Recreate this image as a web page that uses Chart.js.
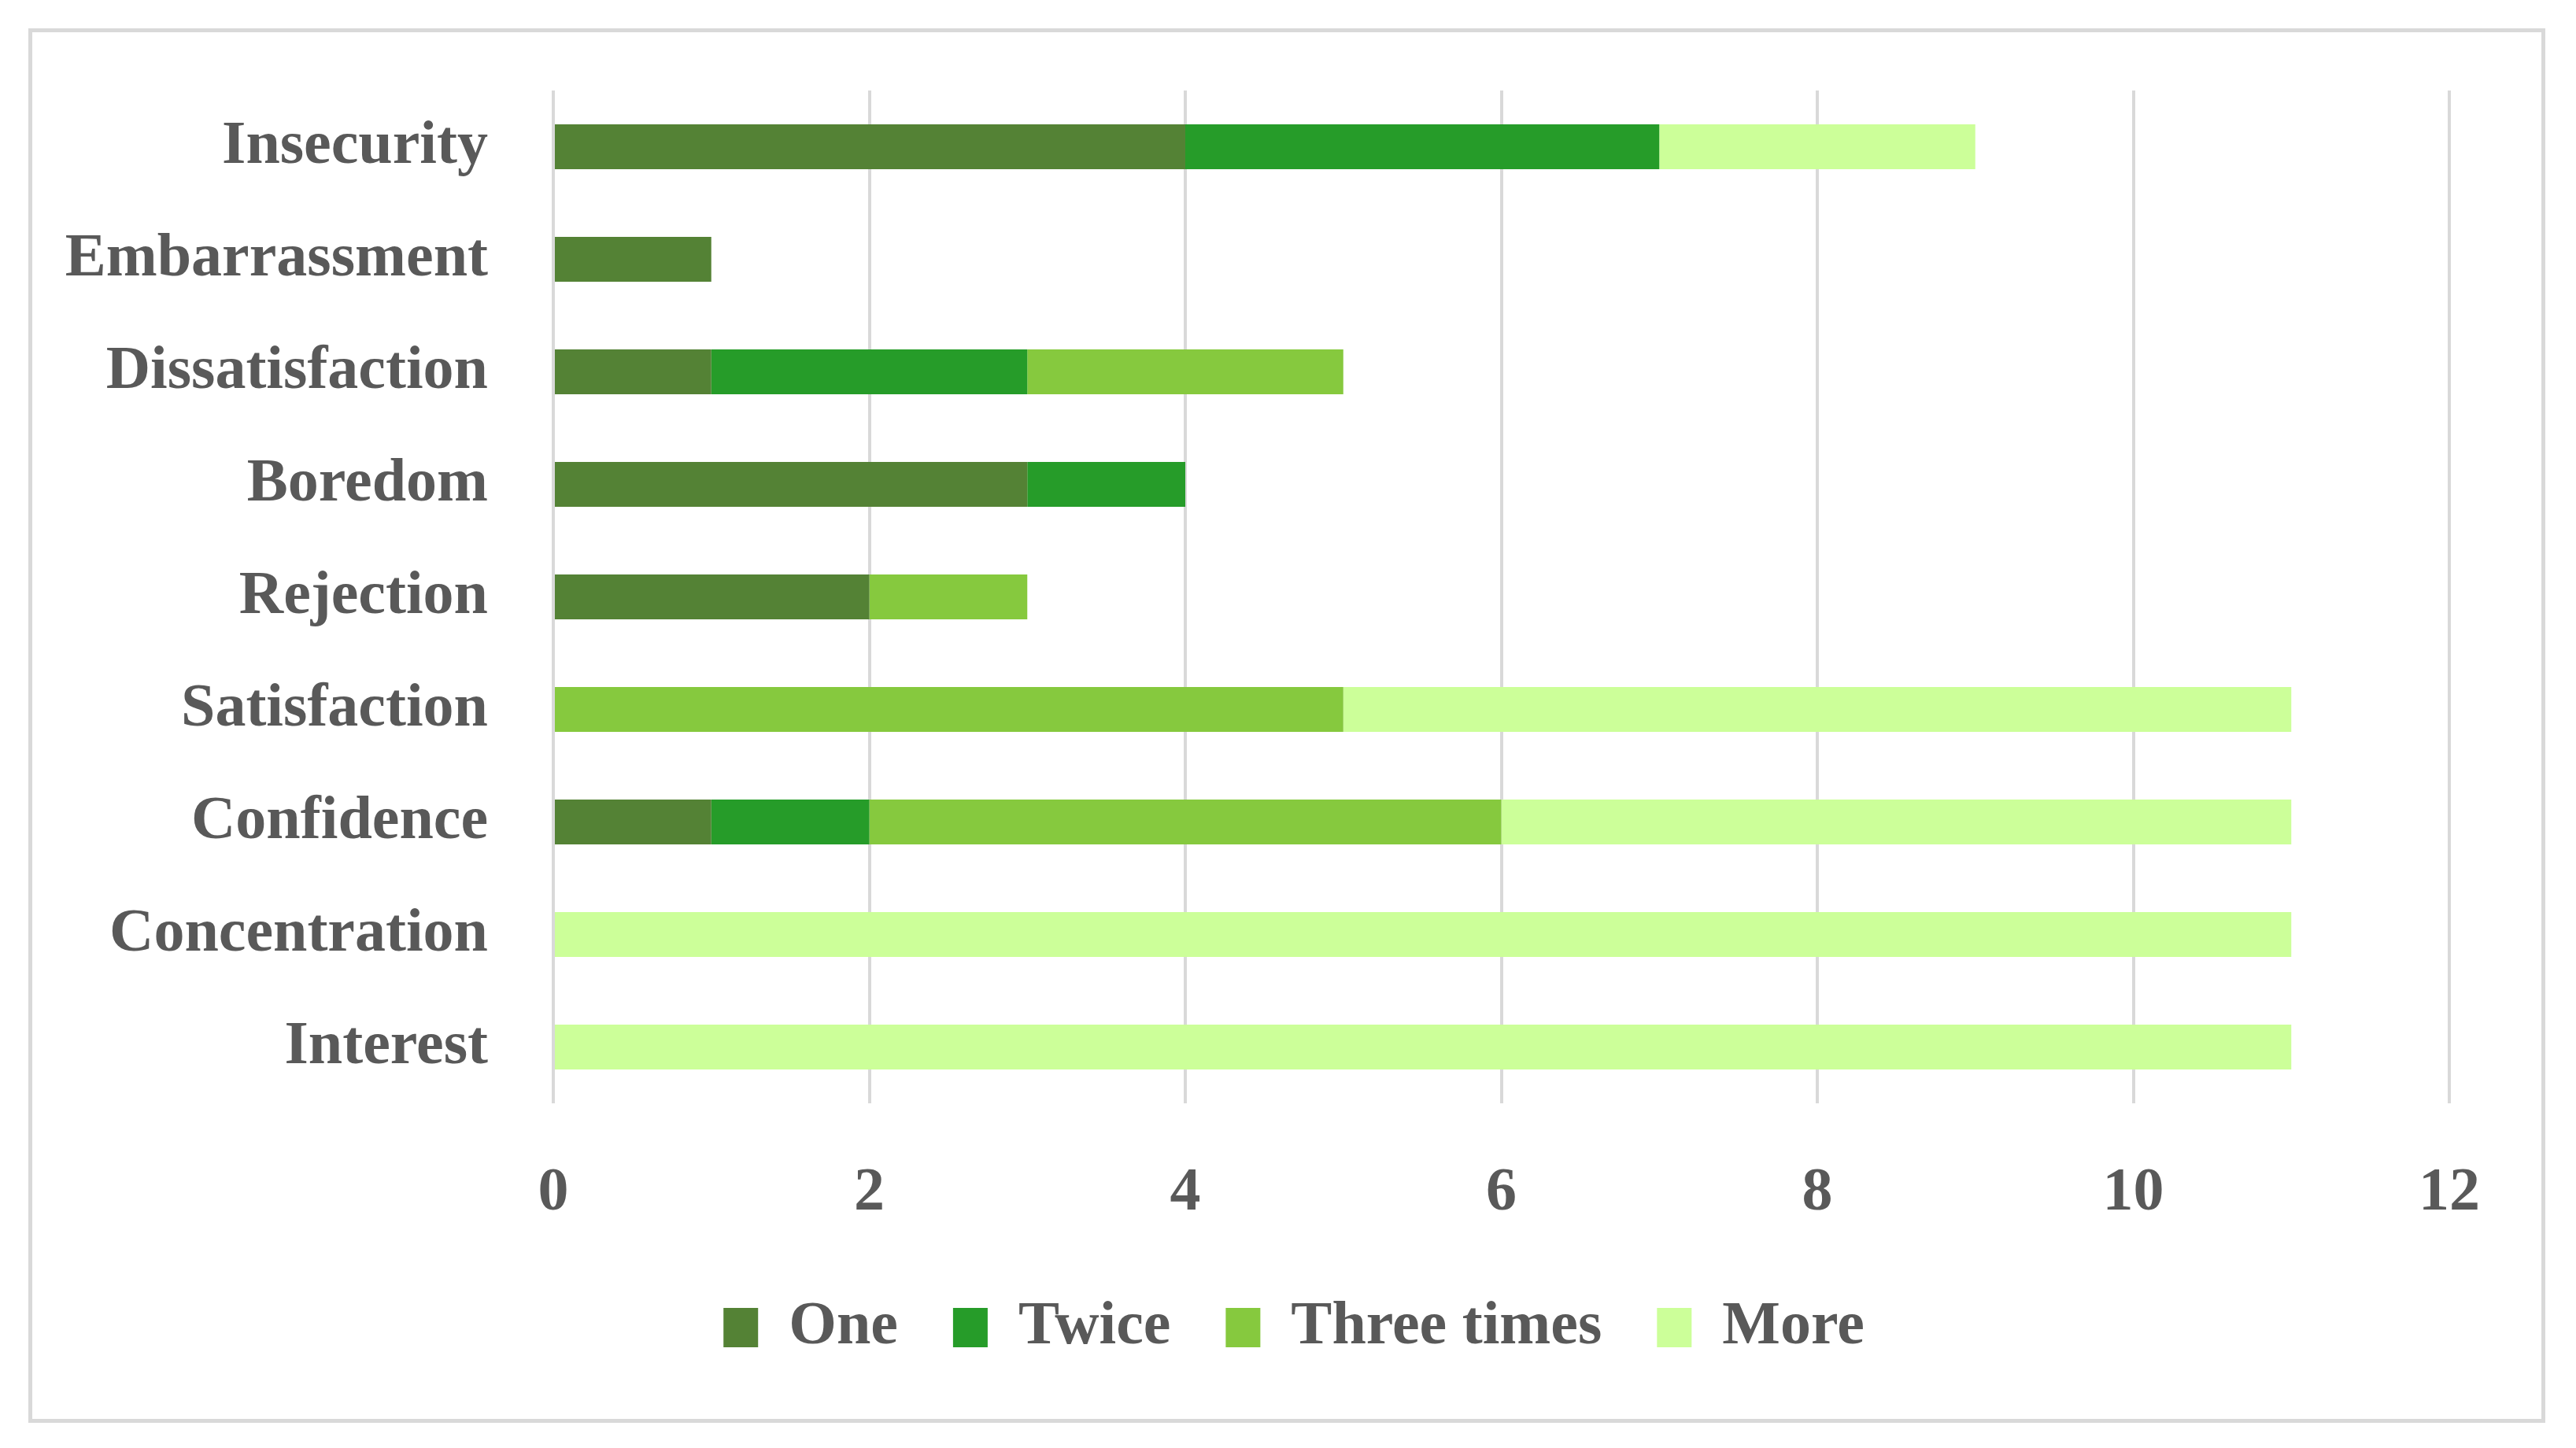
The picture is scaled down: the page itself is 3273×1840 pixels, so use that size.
<!DOCTYPE html>
<html>
<head>
<meta charset="utf-8">
<script src="https://cdn.jsdelivr.net/npm/chart.js@4"></script>
<style>
  html, body { margin: 0; padding: 0; background: #ffffff; }
  #wrap { position: relative; width: 3273px; height: 1840px; }
  #frame { position: absolute; left: 36px; top: 36px; width: 3188px; height: 1762px; border: 5px solid #D9D9D9; pointer-events: none; }
  canvas { position: absolute; left: 0; top: 0; }
</style>
</head>
<body>
<div id="wrap">
  <canvas id="c" width="3273" height="1840"></canvas>
  <div id="frame"></div>
</div>
<script>
const categories = ["Insecurity", "Embarrassment", "Dissatisfaction", "Boredom", "Rejection", "Satisfaction", "Confidence", "Concentration", "Interest"];
const seriesNames = ["One", "Twice", "Three times", "More"];
const one        = [4, 1, 1, 3, 2, 0, 1, 0, 0];
const twice      = [3, 0, 2, 1, 0, 0, 1, 0, 0];
const threeTimes = [0, 0, 2, 0, 1, 5, 4, 0, 0];
const more       = [2, 0, 0, 0, 0, 6, 5, 11, 11];
const xTicks = [0, 2, 4, 6, 8, 10, 12];

const colors = ["#548235", "#269C29", "#86C93E", "#CCFF99"];
const seriesValues = [one, twice, threeTimes, more];

const font = { family: "'Liberation Serif', 'Times New Roman', serif", size: 78, weight: "bold" };
const textColor = "#595959";

const legendShift = {
  id: "legendShift",
  afterLayout(chart) {
    chart.legend.left += 58;
    chart.legend.right += 58;
  }
};

new Chart(document.getElementById("c"), {
  type: "bar",
  data: {
    labels: categories,
    datasets: seriesNames.map((n, i) => ({
      label: n,
      data: seriesValues[i],
      backgroundColor: colors[i],
      borderWidth: 0,
      barPercentage: 0.4,
      categoryPercentage: 1.0
    }))
  },
  plugins: [legendShift],
  options: {
    indexAxis: "y",
    responsive: false,
    animation: false,
    layout: { padding: { left: 60, right: 161, top: 115, bottom: 104 } },
    scales: {
      x: {
        stacked: true,
        min: 0,
        max: 12,
        afterBuildTicks: (scale) => { scale.ticks = xTicks.map(v => ({ value: v })); },
        afterFit: (scale) => { scale.height = 176; },
        grid: { color: "#D9D9D9", lineWidth: 4, drawTicks: false },
        border: { display: false },
        ticks: { color: textColor, font: font, padding: 68 }
      },
      y: {
        stacked: true,
        afterFit: (scale) => { scale.width = 643; },
        grid: { display: false, drawTicks: true, tickLength: 75 },
        border: { display: false },
        ticks: { color: textColor, font: font, padding: 8 }
      }
    },
    plugins: {
      legend: {
        position: "bottom",
        labels: {
          color: textColor,
          font: font,
          boxWidth: 44,
          boxHeight: 50,
          padding: 70
        }
      },
      tooltip: { enabled: false }
    }
  }
});
</script>
</body>
</html>
